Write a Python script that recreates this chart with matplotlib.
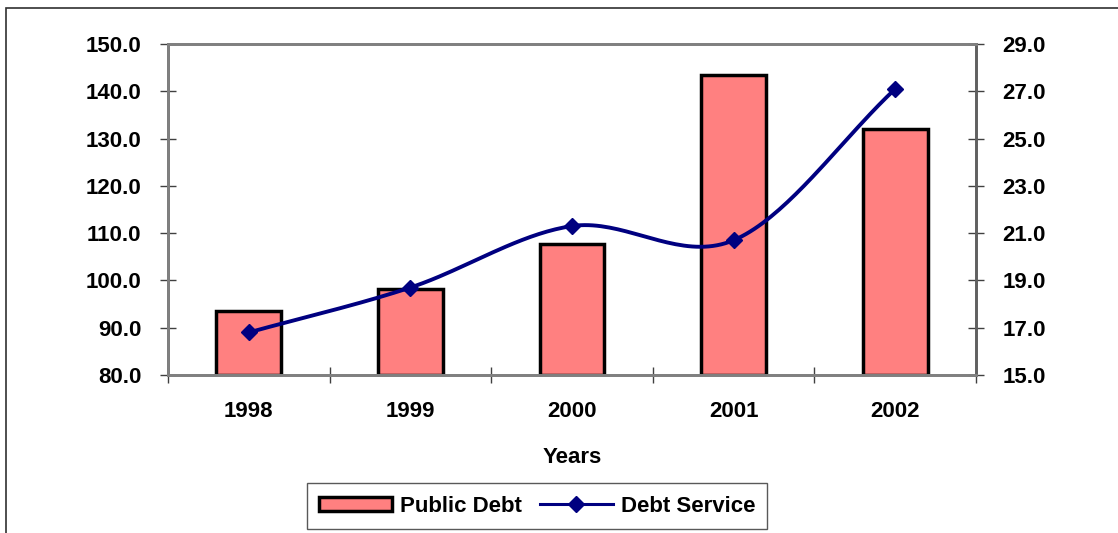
import matplotlib
matplotlib.use("Agg")
import matplotlib.pyplot as plt
import numpy as np
from matplotlib.patches import Rectangle, Patch
from matplotlib.lines import Line2D

years = ["1998", "1999", "2000", "2001", "2002"]
public_debt = [93.6, 98.2, 107.8, 143.4, 132.1]
debt_service = [16.8, 18.7, 21.3, 20.7, 27.1]
left_ticks = [80, 90, 100, 110, 120, 130, 140, 150]
right_ticks = [15, 17, 19, 21, 23, 25, 27, 29]

plt.rcParams['font.family'] = ['Liberation Sans', 'DejaVu Sans']
plt.rcParams['font.weight'] = 'bold'
FS = 16

W, H = 1118, 533
fig = plt.figure(figsize=(W / 100, H / 100), dpi=100)
ax = fig.add_axes([168 / W, 1 - 375 / H, (976 - 168) / W, (375 - 44) / H])
ax2 = ax.twinx()

# outer border
fig.patches.append(Rectangle((6 / W, -0.1), 1.2, (533 - 8) / H + 0.1, transform=fig.transFigure,
                             fill=False, edgecolor='#303030', linewidth=1.2))

x = np.arange(len(years))
ax.bar(x, np.array(public_debt) - 80, bottom=80, width=0.4, color='#FF8080',
       edgecolor='black', linewidth=2.5, zorder=2, label='Public Debt')
ax.set_xlim(-0.5, len(years) - 0.5)
ax.set_ylim(80, 150)
ax.set_yticks(left_ticks)
ax.set_yticklabels([f"{v:.1f}" for v in left_ticks], fontsize=FS, fontweight='bold')
ax.set_xticks(x)
ax.set_xticklabels(years, fontsize=FS, fontweight='bold')
ax.tick_params(axis='x', length=0, pad=19)
ax.set_xticks(np.arange(len(years) + 1) - 0.5, minor=True)
ax.tick_params(axis='x', which='minor', direction='inout', length=12, width=1, color='#404040')
ax.tick_params(axis='y', direction='inout', length=12, width=1, color='#404040', pad=13)
ax.set_xlabel("Years", fontsize=FS, fontweight='bold', labelpad=18)

# smooth curve (Catmull-Rom through the data points)
ys = np.array(debt_service, dtype=float)
xs = x.astype(float)
px = np.concatenate([[2 * xs[0] - xs[1]], xs, [2 * xs[-1] - xs[-2]]])
py = np.concatenate([[2 * ys[0] - ys[1]], ys, [2 * ys[-1] - ys[-2]]])
cx, cy = [], []
for i in range(1, len(px) - 2):
    t = np.linspace(0, 1, 40)
    p0, p1, p2, p3 = [np.array([px[j], py[j]]) for j in (i - 1, i, i + 1, i + 2)]
    for tt in t:
        pt = 0.5 * ((2 * p1) + (-p0 + p2) * tt + (2 * p0 - 5 * p1 + 4 * p2 - p3) * tt ** 2
                    + (-p0 + 3 * p1 - 3 * p2 + p3) * tt ** 3)
        cx.append(pt[0]); cy.append(pt[1])
ax2.plot(cx, cy, color='#000080', linewidth=2.8, zorder=3)
ax2.plot(xs, ys, linestyle='none', marker='D', color='#000080', markersize=8.5, zorder=4)
ax2.set_ylim(15, 29)
ax2.set_yticks(right_ticks)
ax2.set_yticklabels([f"{v:.1f}" for v in right_ticks], fontsize=FS, fontweight='bold')
ax2.tick_params(axis='y', direction='inout', length=12, width=1, color='#404040', pad=13)

for a in (ax, ax2):
    for s in a.spines.values():
        s.set_color('#808080')
        s.set_linewidth(2)
ax.spines['left'].set_color('#606060')
ax2.spines['right'].set_color('#606060')

handles = [Patch(facecolor='#FF8080', edgecolor='black', linewidth=2.5),
           Line2D([0], [0], color='#000080', linewidth=2.2, marker='D', markersize=8)]
leg = fig.legend(handles, ['Public Debt', 'Debt Service'], loc='center',
                 bbox_to_anchor=(537 / W, 1 - 506 / H), ncol=2, frameon=True, fancybox=False,
                 prop={'size': FS, 'weight': 'bold'}, handlelength=3.3, handleheight=0.6,
                 handletextpad=0.35, columnspacing=0.8, borderpad=0.55, borderaxespad=0)
leg.get_frame().set_edgecolor('#303030')
leg.get_frame().set_linewidth(1)

fig.savefig("out.png", dpi=100)
